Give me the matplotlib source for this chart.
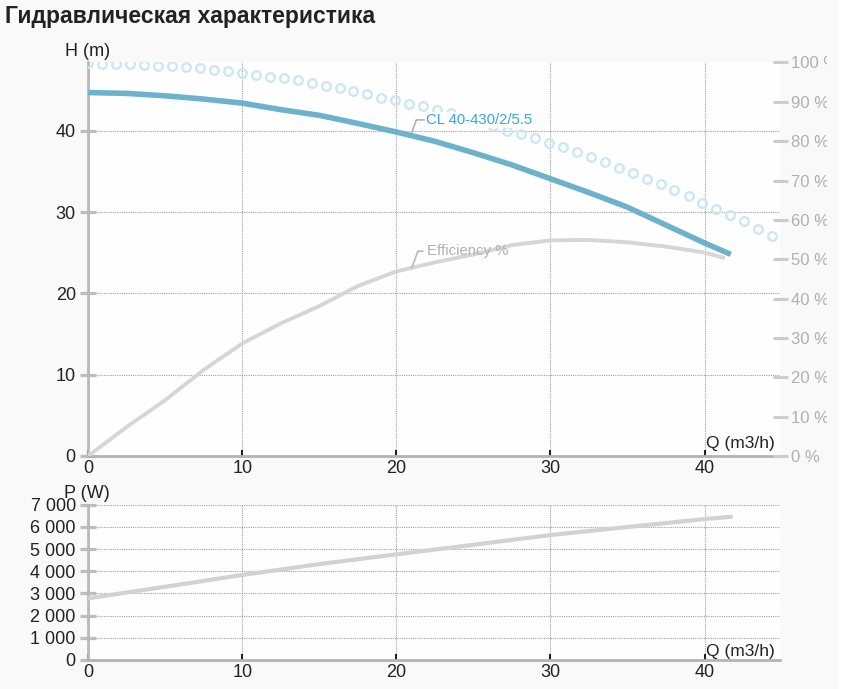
import matplotlib
matplotlib.use("Agg")
import matplotlib.pyplot as plt
from matplotlib.patches import Rectangle

plt.rcParams['font.family'] = ['Liberation Sans', 'DejaVu Sans']

# head curve H(Q), m
q_head = [0, 2.5, 5, 7.5, 10, 12.5, 15, 17.5, 20, 22.5, 25, 27.5, 30, 32.5, 35, 37.5, 40, 41.7]
head = [44.7, 44.6, 44.3, 43.9, 43.4, 42.6, 41.9, 40.9, 39.85, 38.7, 37.3, 35.8, 34.1, 32.4, 30.6, 28.4, 26.2, 24.8]

# efficiency, %
q_eff = [0, 2.5, 5, 7.5, 10, 12.5, 15, 17.5, 20, 22.5, 25, 27.5, 30, 32.5, 35, 37.5, 40, 41.2]
eff = [0, 7.4, 14.2, 21.9, 28.6, 33.7, 38.1, 43.2, 46.9, 49.2, 51.2, 53.6, 54.8, 54.9, 54.3, 53.2, 51.7, 50.4]

# circle-marked curve, %
q_dots = [0, 0.91, 1.81, 2.72, 3.62, 4.53, 5.44, 6.34, 7.25, 8.15,
          9.06, 9.97, 10.87, 11.78, 12.68, 13.59, 14.5, 15.4, 16.31, 17.21,
          18.12, 19.03, 19.93, 20.84, 21.74, 22.65, 23.56, 24.46, 25.37, 26.27,
          27.18, 28.09, 28.99, 29.9, 30.8, 31.71, 32.62, 33.52, 34.43, 35.33,
          36.24, 37.15, 38.05, 38.96, 39.86, 40.77, 41.68, 42.58, 43.49, 44.39]
dots_pct = [99.9, 99.6, 99.6, 99.6, 99.4, 99.2, 99.0, 98.8, 98.5, 98.2,
            97.8, 97.3, 96.9, 96.3, 96.0, 95.5, 94.8, 94.1, 93.4, 92.7,
            92.1, 91.1, 90.4, 89.5, 88.9, 87.9, 87.1, 86.2, 84.9, 83.8,
            82.7, 81.9, 80.7, 79.5, 78.4, 77.2, 75.9, 74.6, 73.1, 71.8,
            70.5, 69.0, 67.7, 66.1, 64.4, 62.8, 61.3, 59.8, 57.8, 56.0]

# power P(Q), W
q_pow = [0, 5, 10, 15, 20, 25, 30, 35, 40, 41.7]
power = [2780, 3300, 3830, 4320, 4760, 5190, 5630, 5990, 6350, 6450]

q_ticks = [0, 10, 20, 30, 40]
h_ticks = [0, 10, 20, 30, 40]
pct_ticks = [0, 10, 20, 30, 40, 50, 60, 70, 80, 90, 100]
p_ticks = [0, 1000, 2000, 3000, 4000, 5000, 6000, 7000]

bg = '#f9f9f9'
grid_kw = dict(color='#a0a0a0', linestyle=(0, (1, 1)), linewidth=0.8)

fig = plt.figure(figsize=(8.43, 6.89), dpi=100)
fig.patch.set_facecolor(bg)

ax = fig.add_axes([0.1047, 0.3382, 0.8206, 0.5711])
ax2 = ax.twinx()
axp = fig.add_axes([0.1047, 0.0421, 0.8206, 0.2255])

def style_axes(a):
    a.set_facecolor('#fefefe')
    for s in ['top', 'right']:
        a.spines[s].set_visible(False)
    a.spines['left'].set_color('#b8b8b8')
    a.spines['left'].set_linewidth(2)
    a.spines['bottom'].set_color('#b4b4b4')
    a.spines['bottom'].set_linewidth(2)
    a.tick_params(axis='x', direction='in', length=4.5, width=1.5, color='#222222',
                  labelsize=13, labelcolor='#222222', pad=3)
    a.tick_params(axis='y', direction='inout', length=12, width=2.3, color='#bdbdbd',
                  labelsize=13, labelcolor='#222222', pad=3)
    a.grid(True, **grid_kw)
    a.set_axisbelow(True)
    a.set_xlim(0, 44.9)
    a.set_xticks(q_ticks)

# top chart
style_axes(ax)
ax.set_ylim(0, 48.4)
ax.set_yticks(h_ticks)
ax.plot(q_head, head, color='#6cb2cc', lw=4, solid_capstyle='butt', zorder=3)

ax2.set_ylim(0, 100)
ax2.set_yticks(pct_ticks)
ax2.set_yticklabels([f"{v} %" for v in pct_ticks])
for s in ax2.spines.values():
    s.set_visible(False)
ax2.tick_params(axis='y', direction='inout', length=10.8, width=2.2, color='#cccccc',
                labelsize=12, labelcolor='#b0b0b0', pad=2.6)
ax2.plot(q_eff, eff, color='#d6d6d6', lw=2.8, zorder=2)
ax2.plot(q_dots, dots_pct, linestyle='none', marker='o', markersize=6.2,
         markerfacecolor='none', markeredgecolor='#cde7f4', markeredgewidth=1.7, zorder=2)

ax2.annotate('CL 40-430/2/5.5', xy=(21.0, 39.8 / 48.4 * 100), xytext=(10.5, 9),
             textcoords='offset points', ha='left', va='center', fontsize=10.7,
             color='#3ba6dc', zorder=5,
             bbox=dict(boxstyle='square,pad=0.05', fc='#ffffff', ec='none', alpha=0.85),
             arrowprops=dict(arrowstyle='-', color='#b0b0b0', lw=1.2, shrinkA=1, shrinkB=0,
                             relpos=(0, 0.5),
                             connectionstyle='angle,angleA=0,angleB=70,rad=0'))
ax2.annotate('Efficiency %', xy=(21.0, 47.8), xytext=(11, 12),
             textcoords='offset points', ha='left', va='center', fontsize=10.7,
             color='#b0b0b0', zorder=5,
             arrowprops=dict(arrowstyle='-', color='#b8b8b8', lw=1.2, shrinkA=1, shrinkB=0,
                             relpos=(0, 0.5),
                             connectionstyle='angle,angleA=0,angleB=70,rad=0'))

ax.text(40.1, 0.6, 'Q (m3/h)', fontsize=12.5, color='#222222', ha='left', va='bottom')

# bottom chart
style_axes(axp)
axp.set_ylim(0, 7000)
axp.set_yticks(p_ticks)
axp.set_yticklabels([f"{v:,}".replace(',', ' ') for v in p_ticks])
axp.plot(q_pow, power, color='#d2d2d2', lw=3, zorder=3)
axp.text(40.1, 50, 'Q (m3/h)', fontsize=12.5, color='#222222', ha='left', va='bottom')

fig.text(65 / 843, 1 - 52 / 689, 'H (m)', fontsize=13, color='#222222', ha='left', va='center')
fig.text(64 / 843, 1 - 494 / 689, 'P (W)', fontsize=13, color='#222222', ha='left', va='center')
fig.text(5 / 843, 1 - 16 / 689, 'Гидравлическая характеристика', fontsize=16.5,
         fontweight='bold', color='#222222', ha='left', va='center')

# the chart container cuts off the right edge
fig.add_artist(Rectangle((827 / 843, 0), 16 / 843, 1, transform=fig.transFigure,
                         facecolor=bg, edgecolor='none', zorder=10))
fig.add_artist(Rectangle((838 / 843, 0), 5 / 843, 1, transform=fig.transFigure,
                         facecolor='#ffffff', edgecolor='none', zorder=11))

fig.savefig('out.png', dpi=100, facecolor=fig.get_facecolor())
